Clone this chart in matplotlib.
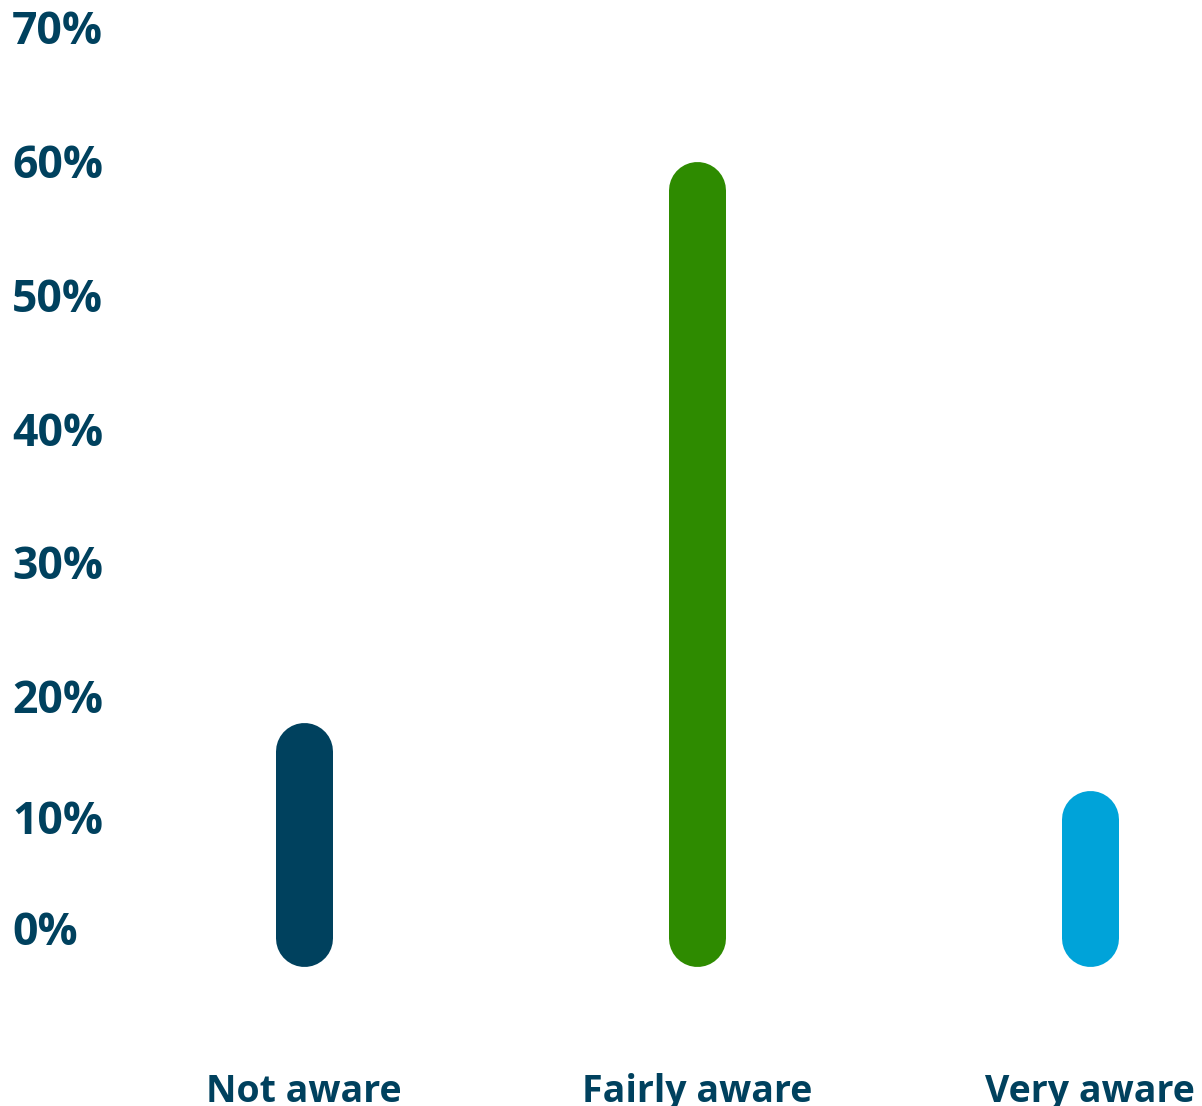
import matplotlib
matplotlib.use("Agg")
import matplotlib.pyplot as plt
import matplotlib.transforms as mtransforms

# data (percent of respondents)
categories = ["Not aware", "Fairly aware", "Very aware"]
values = [18.3, 60.2, 13.2]
colors = ["#00415e", "#2e8b00", "#00a3d9"]
yticks = [0, 10, 20, 30, 40, 50, 60, 70]
ytick_labels = ["0%", "10%", "20%", "30%", "40%", "50%", "60%", "70%"]

TEXT = "#00415e"
plt.rcParams["font.family"] = ["Open Sans", "DejaVu Sans"]

fig = plt.figure(figsize=(12.02, 11.06), dpi=100)
ax = fig.add_axes([0.0, 0.1257, 1.0, 0.8472])
ax.set_xlim(-0.7735, 2.285)
ax.set_ylim(0, 70)

# bar width in pixels -> line width in points, and the cap radius in data units
bar_px = 57
lw = bar_px * 72 / fig.dpi
px_per_unit = ax.get_window_extent().height / 70
r = (bar_px / 2) / px_per_unit

for i, (v, c) in enumerate(zip(values, colors)):
    ax.plot([i, i], [r, v - r], color=c, lw=lw, solid_capstyle="round")

ax.set_xticks(range(len(categories)))
ax.set_xticklabels(categories)
ax.set_yticks(yticks)
ax.set_yticklabels(ytick_labels)

ax.tick_params(axis="x", length=0, pad=76, labelsize=27, labelcolor=TEXT)
ax.tick_params(axis="y", length=0, pad=-8.6, labelsize=32, labelcolor=TEXT)
for lab in ax.get_xticklabels():
    lab.set_fontweight("bold")
for lab in ax.get_yticklabels():
    lab.set_fontweight("bold")
    lab.set_horizontalalignment("left")

# the two lowest labels sit a bit higher than their values in the original
shifts = {"0%": 39, "10%": 16}
for lab in ax.get_yticklabels():
    dy = shifts.get(lab.get_text(), 3)
    lab.set_transform(lab.get_transform() +
                      mtransforms.ScaledTranslation(0, dy / fig.dpi, fig.dpi_scale_trans))

for s in ax.spines.values():
    s.set_visible(False)

fig.savefig("out.png", dpi=100)
